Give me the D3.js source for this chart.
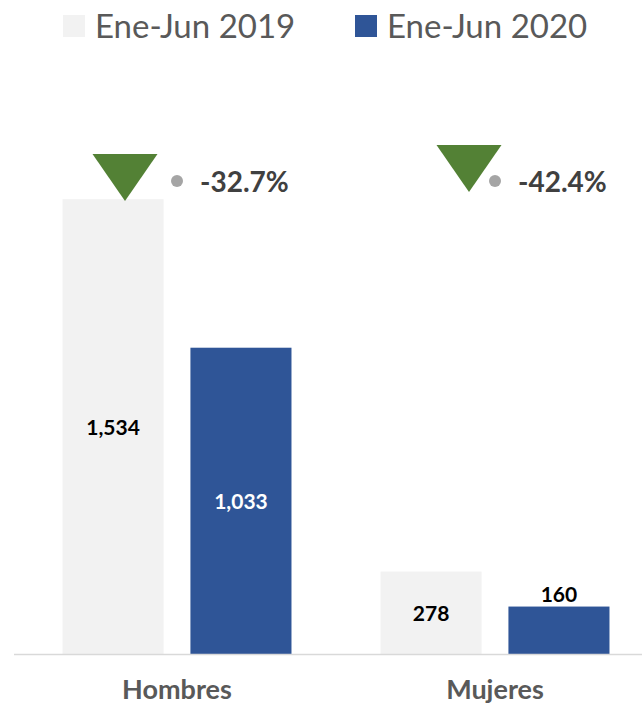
<!DOCTYPE html>
<html>
<head>
<meta charset="utf-8">
<script src="https://cdn.jsdelivr.net/npm/d3@7"></script>
<style>
  body { margin: 0; background: #fff; }
  svg { display: block; font-family: Lato, "Open Sans", sans-serif; }
</style>
</head>
<body>
<div id="chart"></div>
<script>
// data
var categories = ["Hombres", "Mujeres"];
var seriesNames = ["Ene-Jun 2019", "Ene-Jun 2020"];
var values2019 = [1534, 278];
var values2020 = [1033, 160];
var changeLabels = ["-32.7%", "-42.4%"];

var width = 642, height = 704;
var colors = ["#f2f2f2", "#2f5597"];

// arrow marker placement, hand tuned against the picture
var arrowDx = [-52, -26];
var arrowTop = [154, 145];

var svg = d3.select("#chart").append("svg")
    .attr("width", width)
    .attr("height", height);

var x = d3.scaleBand()
    .domain(categories)
    .range([18, 654])
    .paddingInner(0.28)
    .paddingOuter(0.14);

var xs = d3.scaleBand()
    .domain(seriesNames)
    .range([0, x.bandwidth()])
    .paddingInner(0.21);

var y = d3.scaleLinear()
    .domain([0, 2000])
    .range([654, 61]);

var rows = [];
categories.forEach(function(c, i) {
    rows.push({cat: c, s: 0, v: values2019[i]});
    rows.push({cat: c, s: 1, v: values2020[i]});
});

// bars
svg.selectAll("rect.bar")
    .data(rows)
    .enter().append("rect")
    .attr("class", "bar")
    .attr("x", function(d) { return x(d.cat) + xs(seriesNames[d.s]); })
    .attr("y", function(d) { return y(d.v); })
    .attr("width", xs.bandwidth())
    .attr("height", function(d) { return y(0) - y(d.v); })
    .attr("fill", function(d) { return colors[d.s]; });

// axis line
svg.append("line")
    .attr("x1", 14).attr("x2", width)
    .attr("y1", y(0) + 0.5).attr("y2", y(0) + 0.5)
    .attr("stroke", "#d9d9d9")
    .attr("stroke-width", 1.5);

// value labels: centred in the bar, or above it if it's too short
var fmt = d3.format(",");
svg.selectAll("text.val")
    .data(rows)
    .enter().append("text")
    .attr("class", "val")
    .attr("x", function(d) { return x(d.cat) + xs(seriesNames[d.s]) + xs.bandwidth() / 2; })
    .attr("y", function(d) {
        var h = y(0) - y(d.v);
        return h < 60 ? y(d.v) - 5 : (y(d.v) + y(0)) / 2 + 8;
    })
    .attr("text-anchor", "middle")
    .attr("font-size", 21)
    .attr("font-weight", "bold")
    .attr("fill", function(d) {
        var h = y(0) - y(d.v);
        return d.s === 1 && h >= 60 ? "#fff" : "#000";
    })
    .text(function(d) { return fmt(d.v); });

// category labels
svg.selectAll("text.cat")
    .data(categories)
    .enter().append("text")
    .attr("class", "cat")
    .attr("x", function(d) { return x(d) + x.bandwidth() / 2; })
    .attr("y", 699)
    .attr("text-anchor", "middle")
    .attr("font-size", 27)
    .attr("font-weight", "bold")
    .attr("fill", "#595959")
    .text(function(d) { return d; });

// change markers
var ann = svg.selectAll("g.ann")
    .data(categories)
    .enter().append("g")
    .attr("class", "ann");

ann.append("path")
    .attr("d", function(d, i) {
        var cx = x(d) + x.bandwidth() / 2 + arrowDx[i], t = arrowTop[i];
        return "M" + (cx - 32.5) + "," + t + "L" + (cx + 32.5) + "," + t + "L" + cx + "," + (t + 47) + "Z";
    })
    .attr("fill", "#538135");

ann.append("circle")
    .attr("cx", function(d) { return x(d) + x.bandwidth() / 2; })
    .attr("cy", 181)
    .attr("r", 6)
    .attr("fill", "#a5a5a5");

ann.append("text")
    .attr("x", function(d) { return x(d) + x.bandwidth() / 2 + 23; })
    .attr("y", 192)
    .attr("font-size", 28)
    .attr("font-weight", "bold")
    .attr("fill", "#404040")
    .text(function(d, i) { return changeLabels[i]; });

// legend
var legX = [63, 355];
var leg = svg.selectAll("g.leg")
    .data(seriesNames)
    .enter().append("g")
    .attr("class", "leg")
    .attr("transform", function(d, i) { return "translate(" + legX[i] + ",0)"; });

leg.append("rect")
    .attr("y", 15)
    .attr("width", 22)
    .attr("height", 22)
    .attr("fill", function(d, i) { return colors[i]; });

leg.append("text")
    .attr("x", 32)
    .attr("y", 38)
    .attr("font-size", 33)
    .attr("fill", "#595959")
    .text(function(d) { return d; });
</script>
</body>
</html>
